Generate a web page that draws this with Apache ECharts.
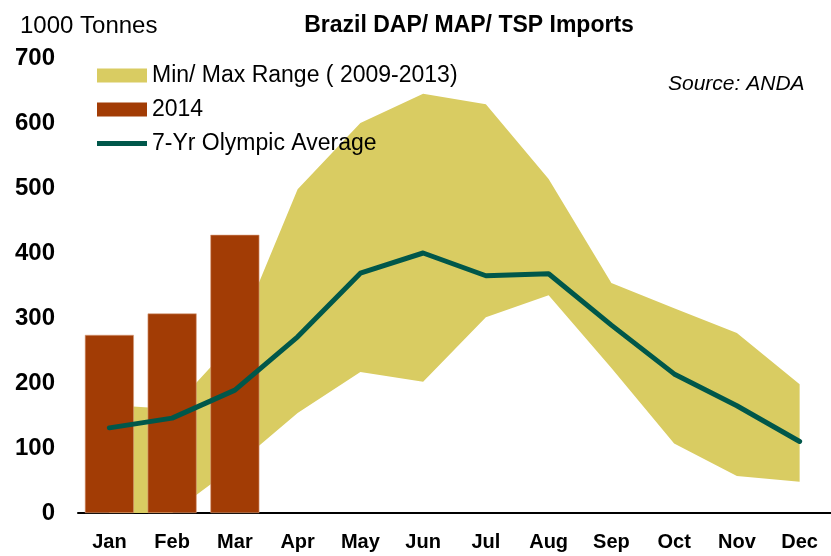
<!DOCTYPE html>
<html>
<head>
<meta charset="utf-8">
<script src="https://cdn.jsdelivr.net/npm/echarts@6/dist/echarts.min.js"></script>
<style>
  html, body { margin: 0; padding: 0; background: #fff; }
  #main { width: 831px; height: 556px; }
</style>
</head>
<body>
<div id="main"></div>
<script>
// data (1000 tonnes)
var months = ['Jan', 'Feb', 'Mar', 'Apr', 'May', 'Jun', 'Jul', 'Aug', 'Sep', 'Oct', 'Nov', 'Dec'];
var rangeMin = [0, 0, 72, 154, 217, 202, 301, 335, 223, 107, 57, 48];
var rangeMax = [166, 160, 265, 498, 600, 645, 629, 514, 354, 315, 277, 198];
var imports2014 = [274, 307, 428];
var olympicAvg = [131, 146, 189, 271, 369, 400, 365, 368, 289, 214, 165, 110];

var font = 'Liberation Sans, Arial, sans-serif';

// band = transparent base + (max - min) stacked on top
var rangeSpan = rangeMax.map(function (v, i) { return v - rangeMin[i]; });

var chartDom = document.getElementById('main');
var myChart = echarts.init(chartDom);

var option = {
  animation: false,
  textStyle: { fontFamily: font },
  title: [
    {
      text: 'Brazil DAP/ MAP/ TSP Imports',
      left: 464, top: 9, textAlign: 'center',
      textStyle: { fontSize: 23, fontWeight: 'bold', color: '#000', fontFamily: font }
    },
    {
      text: '1000 Tonnes',
      left: 15, top: 9,
      textStyle: { fontSize: 24, fontWeight: 'normal', color: '#000', fontFamily: font }
    },
    {
      text: 'Source: ANDA',
      left: 663, top: 69,
      textStyle: { fontSize: 21, fontWeight: 'normal', fontStyle: 'italic', color: '#000', fontFamily: font }
    }
  ],
  legend: {
    orient: 'vertical',
    left: 92, top: 59,
    itemWidth: 50, itemHeight: 14, itemGap: 11,
    textStyle: { fontSize: 23, color: '#000', fontFamily: font },
    data: [
      { name: 'Min/ Max Range ( 2009-2013)', icon: 'rect' },
      { name: '2014', icon: 'rect', itemStyle: { borderWidth: 0 } },
      { name: '7-Yr Olympic Average', icon: 'path://M0,0L50,0L50,5L0,5Z', itemStyle: { color: '#00574A' } }
    ]
  },
  grid: { left: 78, right: -3, top: 58, bottom: 43 },
  xAxis: {
    type: 'category',
    data: months,
    boundaryGap: true,
    axisLine: { show: true, lineStyle: { color: '#000', width: 2 } },
    axisTick: { show: false },
    axisLabel: { fontSize: 20, fontWeight: 'bold', color: '#000', margin: 19, fontFamily: font }
  },
  yAxis: {
    type: 'value',
    min: 0, max: 700, interval: 100,
    axisLine: { show: false },
    axisTick: { show: false },
    splitLine: { show: false },
    axisLabel: { fontSize: 24, fontWeight: 'bold', color: '#000', margin: 23, fontFamily: font }
  },
  series: [
    {
      name: 'base',
      type: 'line',
      stack: 'band',
      data: rangeMin,
      symbol: 'none',
      lineStyle: { opacity: 0 },
      silent: true,
      z: 1
    },
    {
      name: 'Min/ Max Range ( 2009-2013)',
      type: 'line',
      stack: 'band',
      data: rangeSpan,
      symbol: 'none',
      itemStyle: { color: '#D9CC62' },
      lineStyle: { opacity: 0 },
      areaStyle: { color: '#D9CC62', opacity: 1 },
      z: 1
    },
    {
      name: '2014',
      type: 'bar',
      data: imports2014,
      barWidth: 49,
      itemStyle: { color: '#A23C05', borderColor: '#D9A080', borderWidth: 0.6 },
      z: 3
    },
    {
      name: '7-Yr Olympic Average',
      type: 'line',
      data: olympicAvg,
      symbol: 'none',
      itemStyle: { color: '#00574A' },
      lineStyle: { color: '#00574A', width: 5, cap: 'round', join: 'round' },
      z: 4
    }
  ]
};

myChart.setOption(option);
</script>
</body>
</html>
